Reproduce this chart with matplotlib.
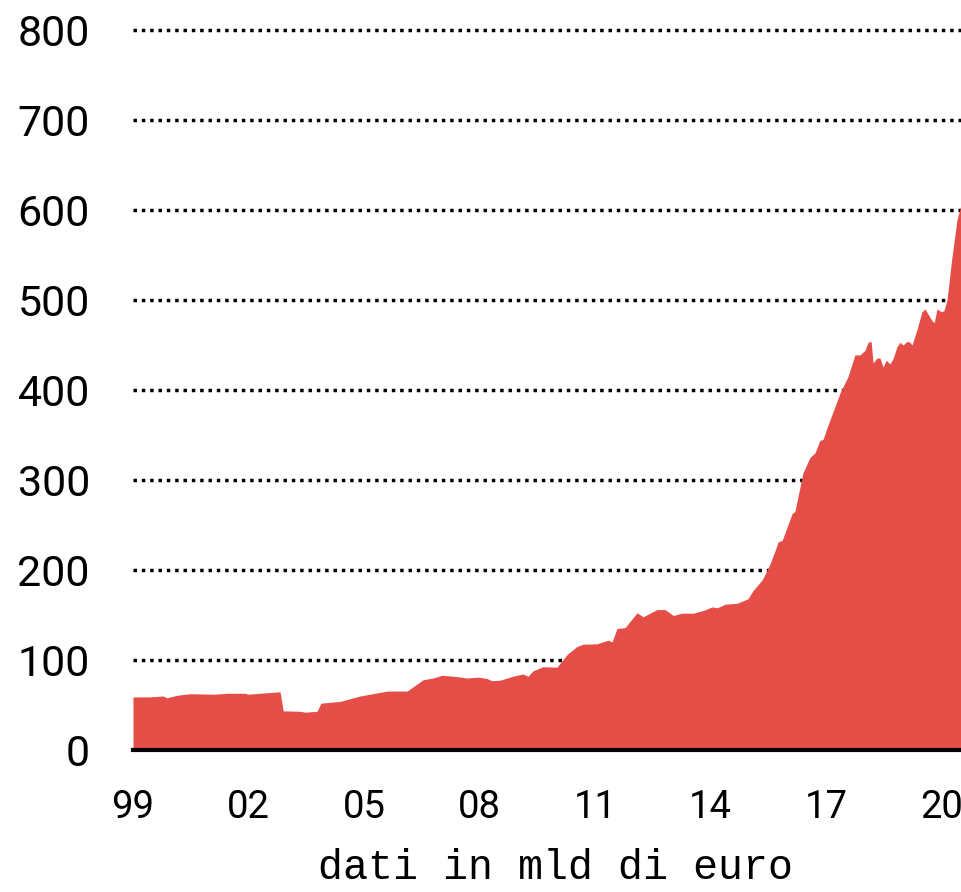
import matplotlib
matplotlib.use("Agg")
import matplotlib.pyplot as plt

# decimal year, value (mld di euro)
years = [1999.00, 1999.44, 1999.78, 1999.88, 2000.17, 2000.48, 2001.13, 2001.44,
         2001.91, 2001.99, 2002.74, 2002.82, 2002.90, 2003.34, 2003.47, 2003.78,
         2003.88, 2004.38, 2004.90, 2005.60, 2006.12, 2006.27, 2006.53, 2006.79,
         2007.03, 2007.31, 2007.68, 2007.96, 2008.19, 2008.32, 2008.53, 2008.87,
         2009.13, 2009.26, 2009.39, 2009.65, 2010.01, 2010.27, 2010.53, 2010.69,
         2011.05, 2011.34, 2011.44, 2011.57, 2011.78, 2012.09, 2012.25, 2012.38,
         2012.61, 2012.82, 2013.03, 2013.26, 2013.55, 2013.81, 2014.04, 2014.17,
         2014.38, 2014.69, 2014.97, 2015.10, 2015.34, 2015.47, 2015.55, 2015.68,
         2015.75, 2015.86, 2016.12, 2016.19, 2016.40, 2016.58, 2016.71, 2016.84,
         2016.92, 2017.05, 2017.36, 2017.57, 2017.75, 2017.88, 2018.01, 2018.09,
         2018.17, 2018.22, 2018.32, 2018.40, 2018.48, 2018.56, 2018.66, 2018.74,
         2018.84, 2018.92, 2019.00, 2019.10, 2019.18, 2019.23, 2019.36, 2019.49,
         2019.57, 2019.75, 2019.81, 2019.88, 2019.99, 2020.06, 2020.14, 2020.27,
         2020.40, 2020.53]
values = [59, 59, 60, 58, 61, 62.5, 62, 63,
          63, 62, 64.5, 64.5, 43.5, 43, 42, 43,
          52, 54, 60, 65.5, 65.5, 70, 78, 80,
          83, 82, 80, 81, 79.5, 77, 77.5, 82,
          84.5, 82, 88, 92.5, 92, 106, 115, 117.5,
          118, 122, 120, 135, 136, 152.5, 148, 151,
          156, 156, 149.5, 152, 152, 155, 159, 158,
          162, 163, 168, 177, 189, 200, 207.5, 222,
          231, 233, 263, 265, 308, 325, 330, 344,
          345, 361, 396.5, 415, 439, 439, 444, 453,
          454, 430, 435.5, 435.5, 425.5, 433, 429, 435,
          448, 453, 450, 454, 453, 450, 467, 487,
          490, 477, 475, 490, 487, 488, 500, 548,
          589, 610]

tick_years = [1999, 2002, 2005, 2008, 2011, 2014, 2017, 2020]
tick_labels = ["99", "02", "05", "08", "11", "14", "17", "20"]
y_ticks = [0, 100, 200, 300, 400, 500, 600, 700, 800]

W, H = 962, 892
fig = plt.figure(figsize=(W / 100, H / 100), dpi=100)
ax = fig.add_axes([133 / W, 1 - 750 / H, 829 / W, (750 - 25.5) / H])

ax.fill_between(years, 0, values, color="#e54e46", lw=0, zorder=2)

# dotted grid lines behind the area
for yv in y_ticks[1:]:
    ax.axhline(yv, color="black", lw=2.5, ls=(0, (1, 1.4)),
               dash_capstyle="butt", zorder=1, clip_on=False)
ax.axhline(0, color="black", lw=3, zorder=3, clip_on=False)

ax.set_xlim(1999.0, 2020.53)
ax.set_ylim(0, 805)
for s in ax.spines.values():
    s.set_visible(False)

ax.set_yticks(y_ticks)
ax.set_yticklabels([str(v) for v in y_ticks], family="Roboto", fontsize=31)
ax.set_xticks(tick_years)
ax.set_xticklabels(tick_labels, family="Roboto", fontsize=27.5)
ax.tick_params(axis="y", length=0, pad=31)
ax.tick_params(axis="x", length=0, pad=28)

fig.text(556 / W, 0.004, "dati in mld di euro", family="Liberation Mono",
         fontsize=30, ha="center", va="bottom")

fig.savefig("out.png", dpi=100)
